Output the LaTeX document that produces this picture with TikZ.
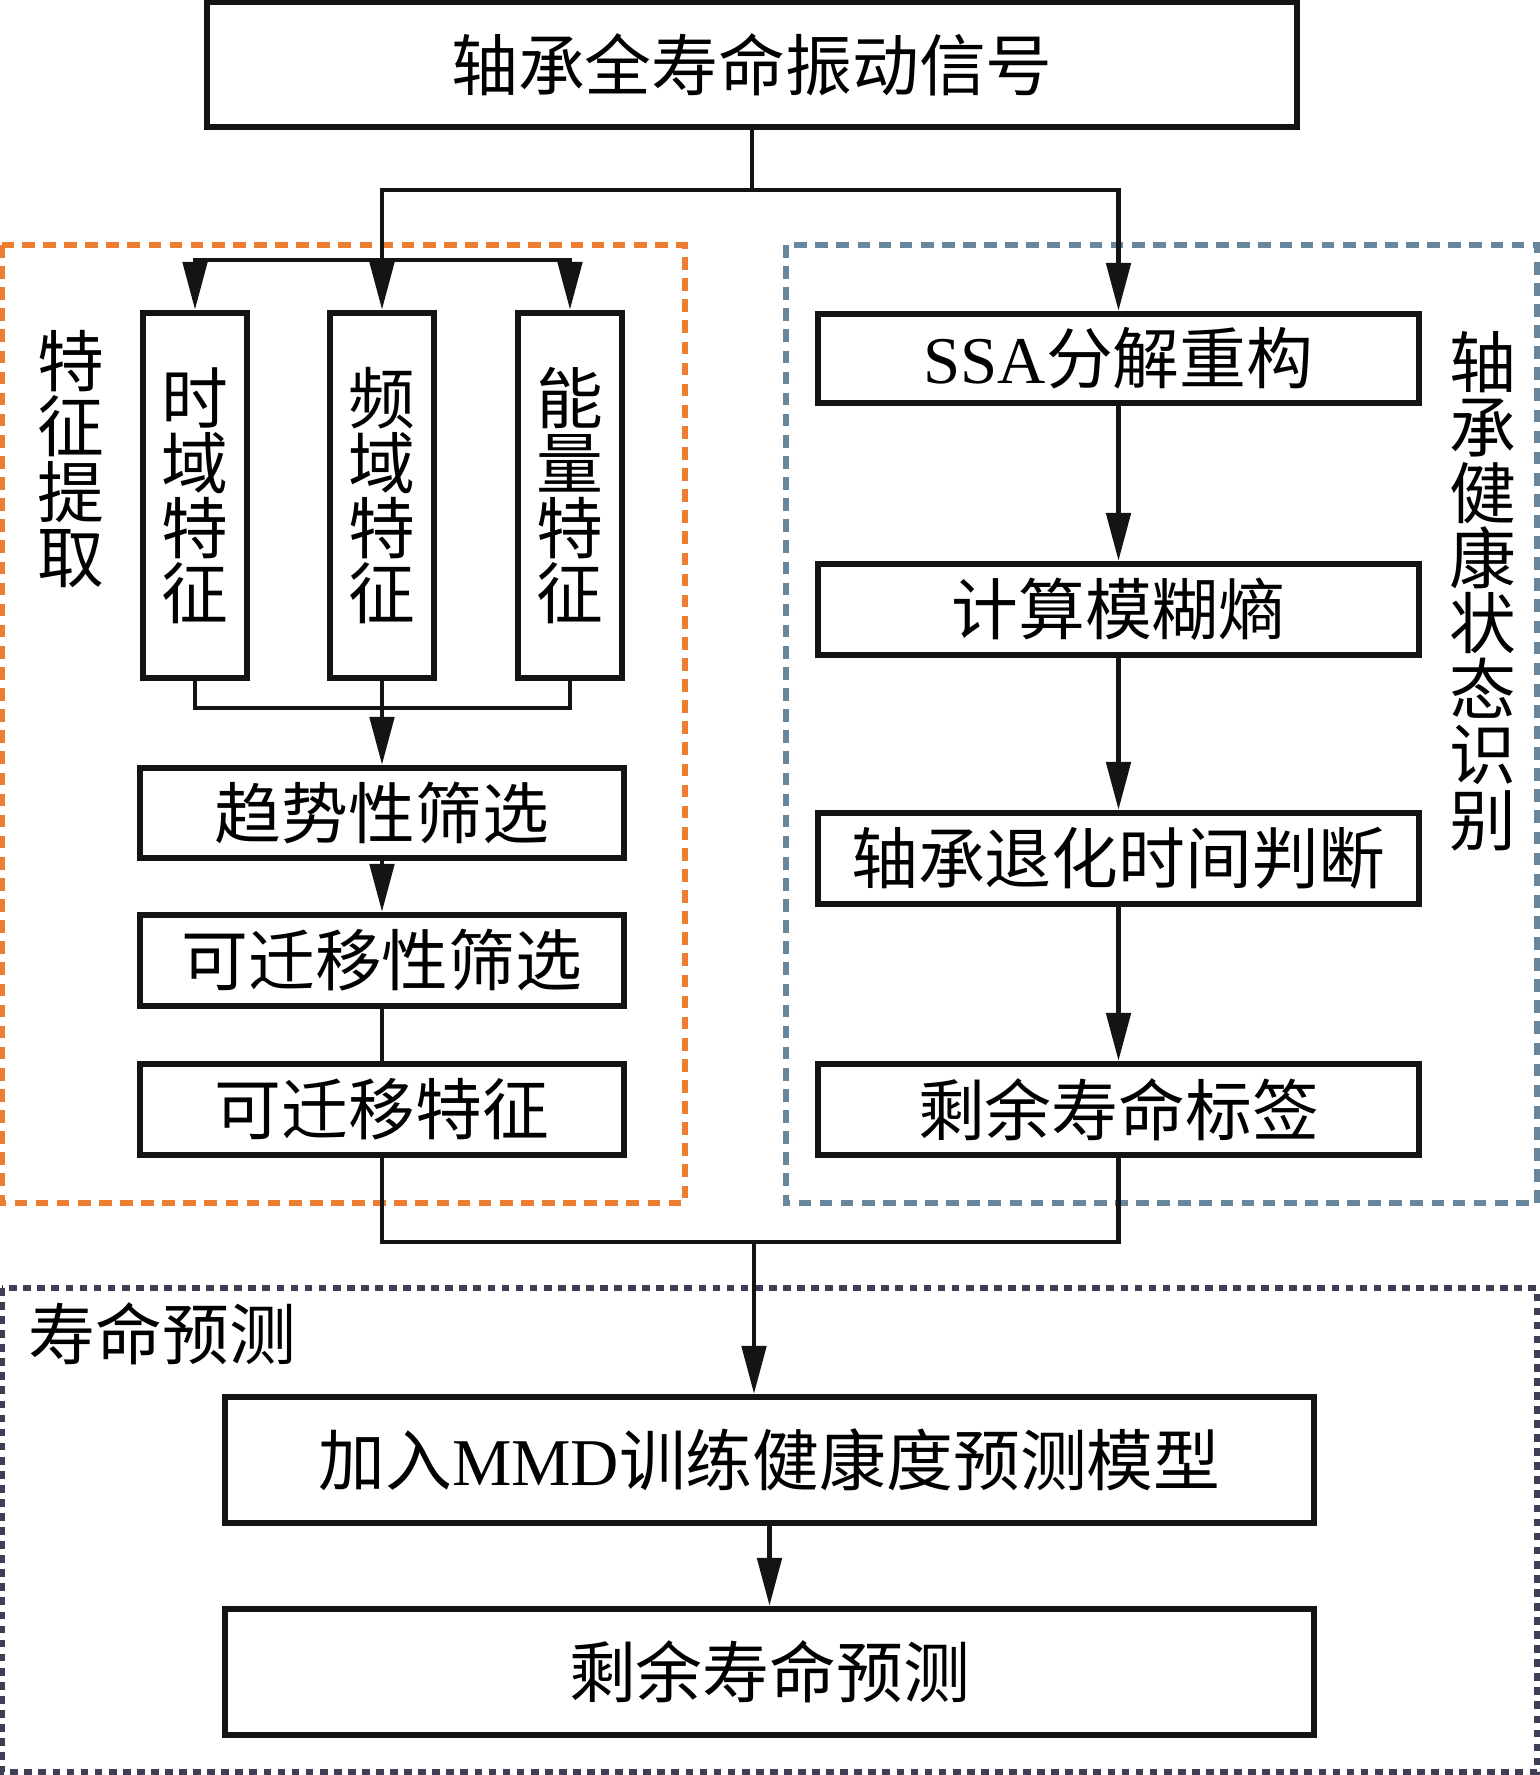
\documentclass[tikz,border=0pt]{standalone}
\usepackage{fontspec}
\setmainfont{Liberation Serif}
\newfontfamily\cjk{Noto Sans CJK SC}
\usepackage{tikz}
\usetikzlibrary{arrows.meta, positioning, calc}
\definecolor{FrameOrange}{RGB}{237, 125, 49}
\definecolor{FrameSlate}{RGB}{104, 135, 156}
\definecolor{FrameNavy}{RGB}{62, 62, 86}
\definecolor{LineBlack}{RGB}{20, 20, 20}

\begin{document}
\begin{tikzpicture}[
    x=0.01cm, y=-0.01cm,
    >={Triangle[length=4.8mm, width=2.4mm]},
    % Define styles for the elements
    proc box/.style={
        rectangle,
        draw=LineBlack,
        line width=1.7pt,
        inner sep=0pt,
        minimum width=#1,
        font={\cjk\fontsize{19}{22}\selectfont}
    },
    feat box/.style={
        rectangle,
        draw=LineBlack,
        line width=1.7pt,
        inner sep=0pt,
        align=center,
        minimum width=1.04cm,
        minimum height=3.65cm,
        font={\cjk\fontsize{19}{18.5}\selectfont}
    },
    side label/.style={
        align=center,
        inner sep=0pt,
        font={\cjk\fontsize{19}{18.6}\selectfont}
    },
    group frame/.style={
        draw=#1,
        line width=1.8pt,
        dash pattern=on 3.6pt off 2.4pt
    },
    flow line/.style={
        draw=LineBlack,
        line width=1.4pt
    }
]
    \useasboundingbox (0,0) rectangle (1540,1775);

    % --- Dashed group frames ---
    \draw[group frame=FrameOrange] (2,245) rectangle (685,1203);
    \draw[group frame=FrameSlate] (786,245) rectangle (1537,1203);
    \draw[group frame=FrameNavy, dash pattern=on 2.2pt off 1.8pt] (2,1288) rectangle (1537,1772);

    % --- Input signal ---
    \node[proc box=10.9cm, minimum height=1.25cm] (sig) at (752,64.5) {轴承全寿命振动信号};

    % --- Feature extraction (left) ---
    \node[feat box] (time) at (195,495.5) {时\\域\\特\\征};
    \node[feat box] (freq) at (382,495.5) {频\\域\\特\\征};
    \node[feat box] (energy) at (570,495.5) {能\\量\\特\\征};
    \node[side label] (fxlabel) at (71,459) {特\\征\\提\\取};

    \node[proc box=4.83cm, minimum height=0.9cm] (trend) at (382,813) {趋势性筛选};
    \node[proc box=4.83cm, minimum height=0.91cm] (transel) at (382,960.5) {可迁移性筛选};
    \node[proc box=4.83cm, minimum height=0.91cm] (transfeat) at (382,1109.5) {可迁移特征};

    % --- Health state recognition (right) ---
    \node[proc box=6.01cm, minimum height=0.89cm] (ssa) at (1118.5,358.5) {{\rmfamily SSA}分解重构};
    \node[proc box=6.01cm, minimum height=0.91cm] (fuzzy) at (1118.5,609.5) {计算模糊熵};
    \node[proc box=6.01cm, minimum height=0.91cm] (degr) at (1118.5,858.5) {轴承退化时间判断};
    \node[proc box=6.01cm, minimum height=0.91cm] (rullabel) at (1118.5,1109.5) {剩余寿命标签};
    \node[side label] (hslabel) at (1483,591) {轴\\承\\健\\康\\状\\态\\识\\别};

    % --- Life prediction (bottom) ---
    \node[proc box=10.89cm, minimum height=1.26cm] (mmd) at (769.5,1460) {加入{\rmfamily MMD}训练健康度预测模型};
    \node[proc box=10.89cm, minimum height=1.26cm] (rul) at (769.5,1672) {剩余寿命预测};
    \node[anchor=west, inner sep=0pt, font={\cjk\fontsize{19}{22}\selectfont}] (lplabel) at (28,1334) {寿命预测};

    % --- Connections ---
    \coordinate (split) at (752,190);
    \coordinate (fbranch) at (382,260);
    \coordinate (fmerge) at (382,708);
    \coordinate (jmerge) at (754,1242);

    % Signal to both branches
    \draw[flow line] (sig.south) -- (split);
    \draw[flow line, ->] (split) -| (freq.north);
    \draw[flow line, ->] (split) -| (ssa.north);
    \draw[flow line, ->] (fbranch) -| (time.north);
    \draw[flow line, ->] (fbranch) -| (energy.north);

    % Features merged and screened
    \draw[flow line] (time.south) |- (fmerge);
    \draw[flow line] (energy.south) |- (fmerge);
    \draw[flow line, ->] (freq.south) -- (trend.north);
    \draw[flow line, ->] (trend) -- (transel);
    \draw[flow line] (transel) -- (transfeat);

    % Health state chain
    \draw[flow line, ->] (ssa) -- (fuzzy);
    \draw[flow line, ->] (fuzzy) -- (degr);
    \draw[flow line, ->] (degr) -- (rullabel);

    % Join into prediction
    \draw[flow line] (transfeat.south) |- (jmerge);
    \draw[flow line] (rullabel.south) |- (jmerge);
    \draw[flow line, ->] (jmerge) -- (jmerge |- mmd.north);
    \draw[flow line, ->] (mmd) -- (rul);

\end{tikzpicture}
\end{document}
